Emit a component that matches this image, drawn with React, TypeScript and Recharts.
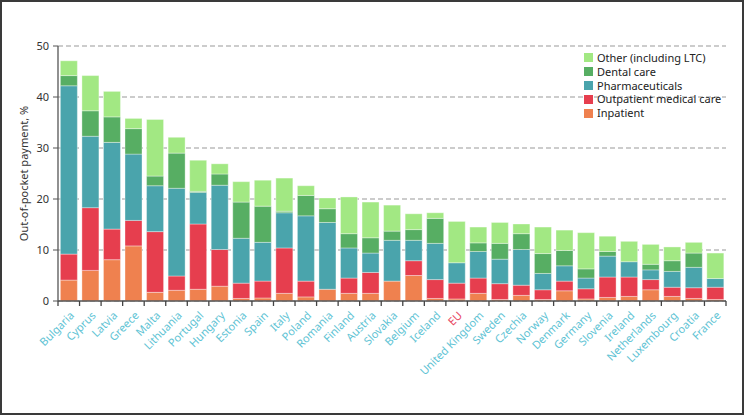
import React from "react";
import { BarChart, Bar, XAxis, YAxis, CartesianGrid, Legend } from "recharts";

const countries = [
  "Bulgaria", "Cyprus", "Latvia", "Greece", "Malta", "Lithuania", "Portugal", "Hungary",
  "Estonia", "Spain", "Italy", "Poland", "Romania", "Finland", "Austria", "Slovakia",
  "Belgium", "Iceland", "EU", "United Kingdom", "Sweden", "Czechia", "Norway", "Denmark",
  "Germany", "Slovenia", "Ireland", "Netherlands", "Luxembourg", "Croatia", "France",
];

const inpatient = [4.1, 6.0, 8.1, 10.8, 1.7, 2.1, 2.3, 2.9, 0.5, 0.6, 1.5, 0.8, 2.3, 1.5, 1.5, 3.9, 5.0, 0.5, 0.4, 1.5, 0.3, 1.1, 0.3, 2.0, 0.4, 0.7, 0.9, 2.2, 0.9, 0.5, 0.3];
const outpatient = [5.1, 12.3, 6.0, 5.0, 11.9, 2.8, 12.8, 7.2, 3.0, 3.3, 8.9, 3.1, 0, 3.0, 4.1, 0, 2.9, 3.7, 3.1, 3.0, 3.1, 2.0, 1.9, 1.9, 2.0, 4.0, 3.8, 2.0, 1.8, 2.1, 2.4];
const pharmaceuticals = [33.0, 14.0, 17.0, 13.0, 9.0, 17.2, 6.2, 12.6, 8.8, 7.6, 6.9, 12.8, 13.1, 5.9, 3.8, 8.0, 4.0, 7.1, 4.0, 5.2, 4.8, 7.0, 3.2, 3.0, 2.1, 4.1, 3.0, 1.9, 3.1, 4.0, 1.7];
const dental = [2.0, 5.0, 5.0, 5.0, 1.9, 6.9, 0.2, 2.2, 7.1, 7.1, 0.3, 4.0, 2.7, 2.8, 3.0, 1.8, 2.1, 4.9, 0, 1.7, 3.1, 3.1, 3.9, 3.0, 1.8, 0.9, 0, 1.1, 2.1, 2.8, 0];
const other = [2.9, 6.9, 5.0, 2.0, 11.1, 3.1, 6.1, 2.0, 4.0, 5.1, 6.5, 1.9, 2.1, 7.2, 7.0, 5.1, 3.1, 1.1, 8.1, 3.1, 4.1, 1.9, 5.2, 4.0, 7.1, 3.0, 4.0, 3.9, 2.7, 2.1, 5.0];

const yTicks = [0, 10, 20, 30, 40, 50];

// stacking order bottom -> top
const series = [
  { key: "inpatient", name: "Inpatient", color: "#ef814f" },
  { key: "outpatient", name: "Outpatient medical care", color: "#e63e4e" },
  { key: "pharma", name: "Pharmaceuticals", color: "#4aa4ac" },
  { key: "dental", name: "Dental care", color: "#57ae63" },
  { key: "other", name: "Other (including LTC)", color: "#a2e883" },
];

const data = countries.map((c, i) => ({
  country: c,
  inpatient: inpatient[i],
  outpatient: outpatient[i],
  pharma: pharmaceuticals[i],
  dental: dental[i],
  other: other[i],
}));

const W = 744;
const H = 415;
const M = { top: 46, right: 18, left: 18, bottom: 0 };
const Y_W = 40;
const BAND = (W - M.left - M.right - Y_W) / countries.length;
const FONT = "'Noto Sans', 'Open Sans', sans-serif";

function XTick(props: any) {
  const { x, y, payload, index } = props;
  const name = payload.value;
  const tx = x + 3;
  const ty = y + 12;
  return (
    <g>
      <line x1={x - BAND / 2} x2={x - BAND / 2} y1={y} y2={y + 5} stroke="#444" strokeWidth={1.3} />
      {index === countries.length - 1 && (
        <line x1={x + BAND / 2} x2={x + BAND / 2} y1={y} y2={y + 5} stroke="#444" strokeWidth={1.3} />
      )}
      <text
        x={tx}
        y={ty}
        transform={`rotate(-45 ${tx} ${ty})`}
        textAnchor="end"
        dominantBaseline="central"
        fontSize={11}
        fontFamily={FONT}
        fill={name === "EU" ? "#e8475f" : "#5ec3d4"}
      >
        {name}
      </text>
    </g>
  );
}

function LegendBox() {
  return (
    <div style={{ fontFamily: FONT, fontSize: 11, color: "#222", lineHeight: "13.8px" }}>
      {[...series].reverse().map((s) => (
        <div key={s.key} style={{ display: "flex", alignItems: "center", height: 13.8 }}>
          <span style={{ width: 9, height: 9, background: s.color, marginRight: 4, display: "inline-block", flexShrink: 0 }} />
          <span style={{ whiteSpace: "nowrap" }}>{s.name}</span>
        </div>
      ))}
    </div>
  );
}

export default function App() {
  return (
    <div style={{ position: "relative", width: W, height: H, background: "#fff" }}>
      <style>{"body{margin:0}"}</style>
      <BarChart width={W} height={H} data={data} margin={M} barCategoryGap="11%">
        <CartesianGrid vertical={false} stroke="#999" strokeDasharray="5 3" />
        <XAxis
          dataKey="country"
          interval={0}
          height={H - 301}
          tick={<XTick />}
          tickLine={false}
          tickSize={0}
          tickMargin={0}
          axisLine={{ stroke: "#555", strokeWidth: 1.3 }}
        />
        <YAxis
          width={Y_W}
          domain={[0, 50]}
          ticks={yTicks}
          interval={0}
          tickSize={5}
          tickMargin={4}
          axisLine={{ stroke: "#555", strokeWidth: 1.3 }}
          tickLine={{ stroke: "#555" }}
          tick={{ fill: "#333", fontSize: 11, fontFamily: FONT }}
          label={{
            content: (p: any) => {
              const vb = p.viewBox;
              const cx = vb.x + 5;
              const cy = vb.y + vb.height / 2;
              return (
                <text
                  x={cx}
                  y={cy}
                  transform={`rotate(-90 ${cx} ${cy})`}
                  textAnchor="middle"
                  dominantBaseline="central"
                  fontSize={11}
                  fontFamily={FONT}
                  fill="#333"
                >
                  Out-of-pocket payment, %
                </text>
              );
            },
          }}
        />
        <Legend
          layout="vertical"
          align="center"
          verticalAlign="middle"
          content={<LegendBox />}
          wrapperStyle={{ top: 51, left: 584, width: 150, height: 70 }}
        />
        {series.map((s) => (
          <Bar
            key={s.key}
            dataKey={s.key}
            name={s.name}
            stackId="a"
            fill={s.color}
            stroke="rgba(255,255,255,0.35)"
            strokeWidth={1}
            isAnimationActive={false}
          />
        ))}
      </BarChart>
      <div
        style={{
          position: "absolute",
          left: 0,
          top: 0,
          width: W,
          height: H,
          boxSizing: "border-box",
          border: "2px solid #3a3a3a",
          pointerEvents: "none",
          zIndex: 10,
        }}
      />
    </div>
  );
}
